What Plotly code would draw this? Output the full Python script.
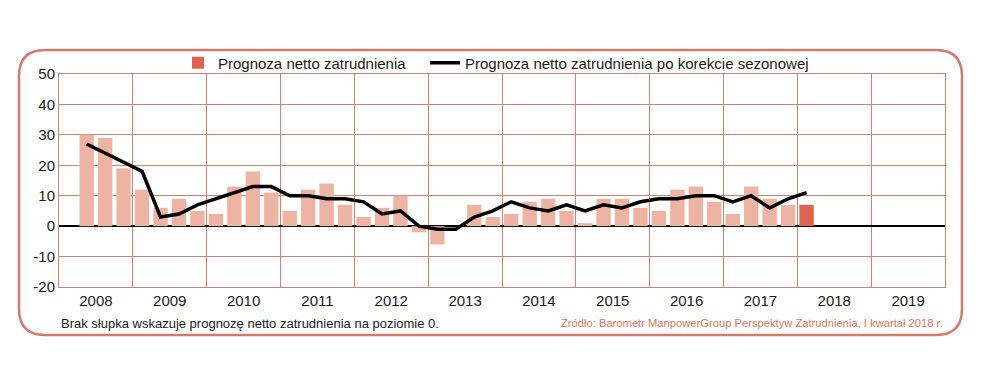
import plotly.graph_objects as go

# Quarterly data: 2008 Q2 ... 2018 Q1
start_year = 2008
start_quarter = 2
net_forecast = [30, 29, 19, 12, 6, 9, 5, 4, 13, 18, 11, 5, 12, 14, 7, 3,
                6, 10, -2, -6, 0, 7, 3, 4, 8, 9, 5, 1, 9, 9, 6, 5,
                12, 13, 8, 4, 13, 9, 7, 7]
seasonally_adjusted = [27, 24, 21, 18, 3, 4, 7, 9, 11, 13, 13, 10, 10, 9, 9, 8,
                       4, 5, 0, -1, -1, 3, 5, 8, 6, 5, 7, 5, 7, 6, 8, 9,
                       9, 10, 10, 8, 10, 6, 9, 11]
years = list(range(2008, 2020))
year_labels = [str(y) for y in years]
y_ticks = [50, 40, 30, 20, 10, 0, -10, -20]

bar_name = "Prognoza netto zatrudnienia"
line_name = "Prognoza netto zatrudnienia po korekcie sezonowej"
note_text = "Brak słupka wskazuje prognozę netto zatrudnienia na poziomie 0."
source_text = "Źródło: Barometr ManpowerGroup Perspektyw Zatrudnienia, I kwartał 2018 r."

# Quarter centre positions on a continuous year axis
x_pos = [start_year + (start_quarter - 1 + i + 0.5) / 4 for i in range(len(net_forecast))]

LIGHT = "#eeb4a3"
DARK = "#df6450"
GRID = "#c98479"
BORDER = "#d07c6c"
FONT = "Liberation Sans, Arial, sans-serif"

fig = go.Figure()
fig.add_trace(go.Bar(x=x_pos[:-1], y=net_forecast[:-1], width=0.195,
                     marker=dict(color=LIGHT, line=dict(width=0)),
                     showlegend=False, name=bar_name))
fig.add_trace(go.Bar(x=x_pos[-1:], y=net_forecast[-1:], width=0.195,
                     marker=dict(color=DARK, line=dict(width=0)),
                     name=bar_name, legend="legend"))
fig.add_trace(go.Scatter(x=x_pos, y=seasonally_adjusted, mode="lines",
                         line=dict(color="black", width=3.5), name=line_name,
                         legend="legend2"))

W, H = 1002, 377
L, R, T, B = 59, 945, 74, 287


def px(xp):
    return (xp - L) / (R - L)


def py(yp):
    return (B - yp) / (B - T)


# Rounded frame around the chart (paper coordinates computed from pixels)
bx0, bx1, by0, by1, rad = 19, 962, 50, 335, 26
path = (
    f"M {px(bx0 + rad)},{py(by0)} L {px(bx1 - rad)},{py(by0)} "
    f"Q {px(bx1)},{py(by0)} {px(bx1)},{py(by0 + rad)} "
    f"L {px(bx1)},{py(by1 - rad)} "
    f"Q {px(bx1)},{py(by1)} {px(bx1 - rad)},{py(by1)} "
    f"L {px(bx0 + rad)},{py(by1)} "
    f"Q {px(bx0)},{py(by1)} {px(bx0)},{py(by1 - rad)} "
    f"L {px(bx0)},{py(by0 + rad)} "
    f"Q {px(bx0)},{py(by0)} {px(bx0 + rad)},{py(by0)} Z"
)
fig.add_shape(type="path", path=path, xref="paper", yref="paper",
              line=dict(color=BORDER, width=2.5), layer="below")

legend_common = dict(orientation="h", yanchor="middle", xanchor="left",
                     font=dict(size=15), itemwidth=30, bgcolor="rgba(0,0,0,0)")

fig.update_layout(
    width=W, height=H,
    margin=dict(l=L, r=W - R, t=T, b=H - B, autoexpand=False),
    paper_bgcolor="white", plot_bgcolor="white",
    barmode="overlay",
    font=dict(family=FONT, size=15, color="#1a1a1a"),
    legend=dict(x=px(178), y=py(63), **legend_common),
    legend2=dict(x=px(425), y=py(63), **legend_common),
    xaxis=dict(range=[years[0], years[-1] + 1],
               tickmode="array", tickvals=[y + 0.5 for y in years], ticktext=year_labels,
               showgrid=False, zeroline=False, ticks="",
               showline=True, mirror=True, linecolor=GRID, linewidth=1,
               tickfont=dict(size=15),
               minor=dict(tickvals=years + [years[-1] + 1], showgrid=True,
                          gridcolor=GRID, gridwidth=1, ticks="")),
    yaxis=dict(range=[-20, 50], tickmode="array", tickvals=y_ticks,
               ticktext=[str(v) for v in y_ticks],
               showgrid=True, gridcolor=GRID, gridwidth=1,
               zeroline=True, zerolinecolor="black", zerolinewidth=1.5,
               ticks="", showline=True, mirror=True, linecolor=GRID, linewidth=1,
               tickfont=dict(size=15)),
    annotations=[
        dict(text=note_text, xref="paper", yref="paper", x=0, y=py(323),
             xanchor="left", yanchor="middle", showarrow=False,
             font=dict(size=13, color="#1a1a1a", family=FONT)),
        dict(text=source_text, xref="paper", yref="paper", x=1.0, y=py(323),
             xanchor="right", yanchor="middle", showarrow=False,
             font=dict(size=11.2, color="#d9745f", family=FONT)),
    ],
)

fig.write_html("out.html", config={"displayModeBar": False},
               post_script="document.body.style.margin='0';")
